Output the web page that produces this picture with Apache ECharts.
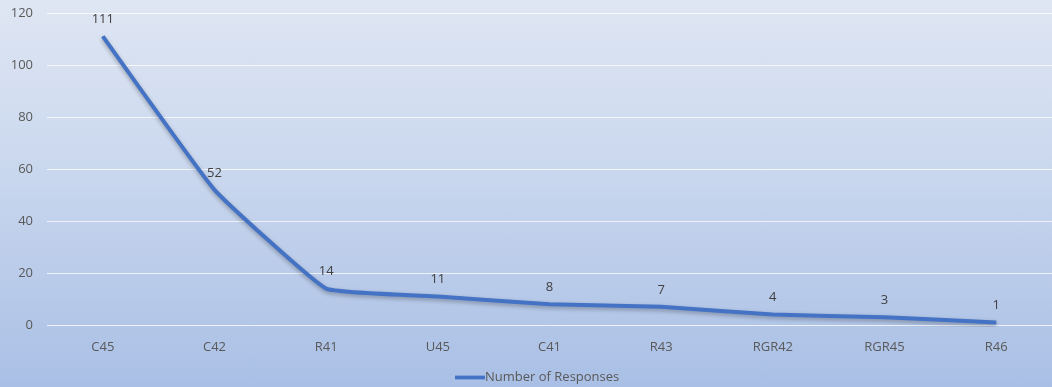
<!DOCTYPE html>
<html>
<head>
<meta charset="utf-8">
<script src="https://cdn.jsdelivr.net/npm/echarts@6/dist/echarts.min.js"></script>
<style>
html,body{margin:0;padding:0;}
#c{width:1052px;height:387px;background:linear-gradient(to bottom,#dfe6f3 0%,#c9d7ee 45%,#a9bfe5 100%);}
</style>
</head>
<body>
<div id="c"></div>
<script>
var categories = ['C45','C42','R41','U45','C41','R43','RGR42','RGR45','R46'];
var responses = [111,52,14,11,8,7,4,3,1];
var yTicks = [0,20,40,60,80,100,120];
var seriesName = 'Number of Responses';

var chart = echarts.init(document.getElementById('c'), null, {renderer:'canvas'});
chart.setOption({
  backgroundColor: 'transparent',
  animation: false,
  textStyle: {fontFamily: 'Open Sans, Liberation Sans, sans-serif'},
  grid: {left: 47, top: 13, width: 1014, bottom: 62, containLabel: false},
  legend: {
    bottom: -2, left: 450,
    data: [seriesName],
    icon: 'path://M0,0 L40,0 L40,5 L0,5 Z',
    itemWidth: 30, itemHeight: 4, itemGap: 2,
    itemStyle: {color: '#4472c4', opacity: 1},
    textStyle: {color: '#595959', fontSize: 13, padding: [0,0,0,-5]}
  },
  xAxis: {
    type: 'category',
    data: categories,
    boundaryGap: true,
    axisLine: {show: false},
    axisTick: {show: false},
    axisLabel: {color: '#595959', fontSize: 13, margin: 16}
  },
  yAxis: {
    type: 'value',
    min: yTicks[0], max: yTicks[yTicks.length-1], interval: 20,
    axisLine: {show: false},
    axisTick: {show: false},
    axisLabel: {color: '#595959', fontSize: 13, margin: 14},
    splitLine: {lineStyle: {color: 'rgba(255,255,255,0.75)', width: 1}}
  },
  series: [{
    name: seriesName,
    type: 'line',
    data: responses,
    smooth: 0.1,
    symbol: 'circle',
    symbolSize: 1,
    showSymbol: true,
    itemStyle: {color: '#4472c4'},
    lineStyle: {color: '#4472c4', width: 4, shadowColor: 'rgba(0,0,0,0.3)', shadowBlur: 4, shadowOffsetY: 2},
    label: {show: true, position: 'top', distance: 10, color: '#404040', fontSize: 13}
  }]
});
</script>
</body>
</html>
